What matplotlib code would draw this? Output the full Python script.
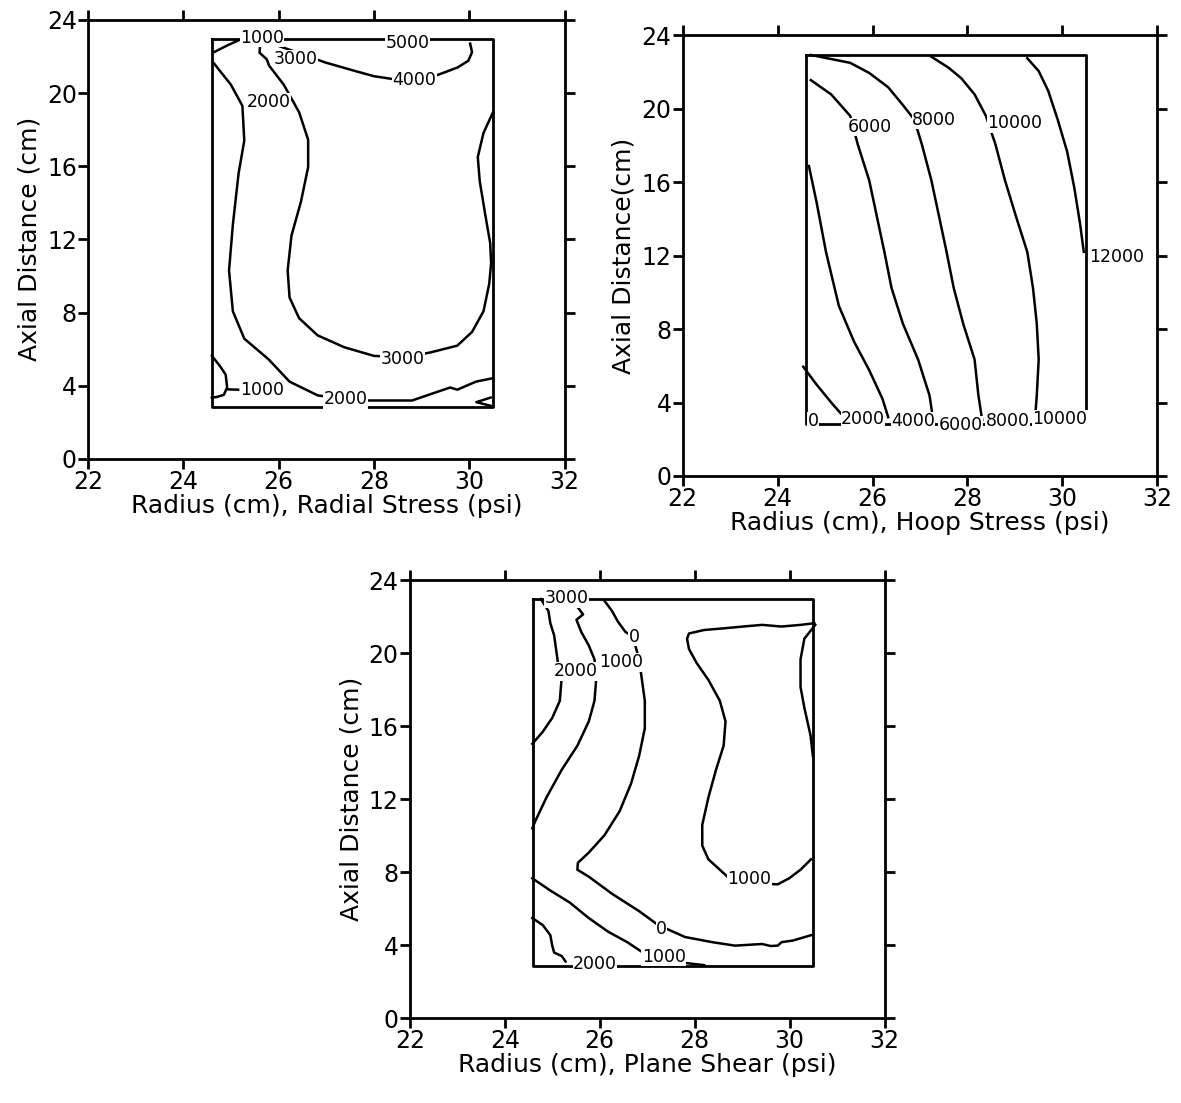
import matplotlib
matplotlib.use("Agg")
import matplotlib.pyplot as plt

# model domain outline (radius, axial distance)
domain_r = [24.6, 30.5]
domain_z = [2.85, 22.95]

x_ticks = [22, 24, 26, 28, 30, 32]
y_ticks = [0, 4, 8, 12, 16, 20, 24]

# ---- radial stress contours (r, z) ----
radial_1000a = [(24.62, 22.2), (24.92, 22.6), (25.2, 22.93)]
radial_1000b = [(24.6, 5.63), (24.77, 5.07), (24.89, 4.6), (24.92, 3.9),
                (24.85, 3.5), (24.7, 3.38), (24.6, 3.35)]
radial_1000b_tail = [(24.92, 3.8), (25.15, 3.78)]
radial_2000 = [(24.65, 21.6), (25.0, 20.45), (25.24, 19.3), (25.28, 17.4),
               (25.16, 15.6), (25.04, 12.8), (24.96, 10.3), (25.04, 8.07),
               (25.28, 6.57), (25.79, 5.44), (26.23, 4.22), (26.82, 3.47),
               (27.61, 3.19), (28.8, 3.19), (29.43, 3.75), (29.6, 3.9),
               (29.75, 3.78), (29.9, 3.95), (30.14, 4.22), (30.48, 4.4)]
radial_3000 = [(25.62, 22.95), (25.6, 22.2), (25.75, 21.85), (25.8, 21.5),
               (26.11, 20.45), (26.43, 18.95), (26.62, 17.45), (26.62, 15.95),
               (26.47, 14.07), (26.27, 12.2), (26.19, 10.3), (26.23, 8.82),
               (26.43, 7.69), (26.82, 6.75), (27.38, 6.1), (28.0, 5.63),
               (28.64, 5.53), (29.19, 5.82), (29.75, 6.19), (30.06, 6.94),
               (30.3, 8.07), (30.42, 9.57), (30.46, 10.7), (30.44, 11.8),
               (30.34, 13.3), (30.22, 15.2), (30.18, 16.5), (30.3, 17.82),
               (30.5, 18.95)]
radial_4000 = [(25.64, 22.9), (26.27, 22.33), (26.98, 21.67), (27.61, 21.2),
               (28.0, 20.92), (28.48, 20.73), (29.1, 20.8), (29.35, 21.0),
               (29.75, 21.39), (29.98, 21.76), (30.06, 22.23), (30.02, 22.7)]
radial_corner = [(30.45, 3.35), (30.15, 3.1), (30.45, 2.9)]
radial_lines = [radial_1000a, radial_1000b, radial_1000b_tail, radial_2000,
                radial_3000, radial_4000, radial_corner]
radial_labels = [("1000", 25.65, 23.0), ("3000", 26.35, 21.85), ("5000", 28.7, 22.75),
                 ("4000", 28.85, 20.7), ("2000", 25.8, 19.5), ("3000", 28.6, 5.45),
                 ("1000", 25.65, 3.78), ("2000", 27.4, 3.25)]

# ---- hoop stress contours ----
hoop_2000 = [(24.54, 5.95), (24.82, 4.98), (25.13, 4.0), (25.33, 3.41)]
hoop_4000 = [(24.66, 16.88), (24.82, 14.93), (25.02, 12.2), (25.29, 9.27),
             (25.61, 7.32), (25.93, 5.76), (26.21, 4.2), (26.33, 3.2)]
hoop_6000 = [(24.7, 21.56), (25.13, 20.78), (25.53, 19.61), (25.69, 18.05),
             (25.93, 16.1), (26.09, 14.15), (26.25, 12.2), (26.4, 10.24),
             (26.64, 8.29), (26.96, 6.34), (27.2, 4.39), (27.28, 3.02)]
hoop_8000 = [(24.7, 22.93), (25.53, 22.5), (25.93, 21.95), (26.33, 21.17),
             (26.64, 20.2), (26.88, 19.41), (27.04, 18.05), (27.24, 16.1),
             (27.4, 14.15), (27.56, 12.2), (27.71, 10.24), (27.91, 8.29),
             (28.15, 6.34), (28.23, 4.39), (28.31, 3.05)]
hoop_10000 = [(27.24, 22.83), (27.6, 22.24), (27.87, 21.66), (28.15, 20.78),
              (28.39, 19.6), (28.59, 18.05), (28.79, 16.1), (29.02, 14.15),
              (29.26, 12.2), (29.38, 10.24), (29.46, 8.29), (29.5, 6.34),
              (29.46, 4.39), (29.42, 3.0)]
hoop_12000 = [(29.26, 22.75), (29.5, 22.05), (29.7, 20.98), (29.9, 19.41),
              (30.1, 17.66), (30.25, 15.7), (30.37, 13.76), (30.45, 12.2)]
hoop_lines = [hoop_2000, hoop_4000, hoop_6000, hoop_8000, hoop_10000, hoop_12000]
hoop_labels = [("6000", 25.95, 19.0), ("8000", 27.3, 19.4), ("10000", 29.0, 19.2),
               ("12000", 31.15, 11.9), ("0", 24.75, 3.0), ("2000", 25.8, 3.1),
               ("4000", 26.85, 3.0), ("6000", 27.85, 2.75), ("8000", 28.85, 3.0),
               ("10000", 29.95, 3.1)]

# ---- plane shear contours ----
shear_2000a = [(24.76, 22.97), (24.92, 22.31), (24.96, 21.64), (25.04, 20.98),
               (25.08, 20.23), (25.12, 19.47), (25.2, 18.71), (25.16, 17.39),
               (25.0, 16.45), (24.8, 15.69), (24.58, 15.03)]
shear_1000a = [(25.69, 22.91), (25.54, 22.5), (25.65, 22.12), (25.51, 21.83),
               (25.61, 21.17), (25.77, 20.42), (25.89, 19.66), (25.93, 18.71),
               (25.89, 17.39), (25.77, 16.26), (25.53, 14.93), (25.2, 13.61),
               (24.88, 12.1), (24.64, 10.78), (24.58, 10.4)]
shear_0 = [(26.1, 22.87), (26.26, 22.31), (26.38, 21.74), (26.54, 21.17),
           (26.7, 20.9), (26.79, 20.04), (26.87, 18.9), (26.95, 17.39),
           (26.95, 15.88), (26.83, 14.37), (26.66, 12.85), (26.42, 11.34),
           (26.1, 10.02), (25.77, 9.07), (25.54, 8.51), (25.53, 8.13),
           (25.77, 7.75), (26.26, 6.81), (26.83, 5.86), (27.23, 5.1),
           (27.8, 4.44), (28.37, 4.16), (28.85, 3.97), (29.42, 4.06),
           (29.6, 3.95), (29.75, 3.97), (29.83, 4.16), (30.07, 4.25),
           (30.45, 4.54)]
shear_1000b = [(24.58, 7.66), (24.96, 6.99), (25.37, 6.33), (25.77, 5.48),
               (26.18, 4.73), (26.58, 4.16), (26.91, 3.59), (27.27, 3.4),
               (27.8, 3.02), (28.2, 2.9)]
shear_2000b = [(24.58, 5.48), (24.8, 5.1), (24.96, 4.54), (25.0, 3.97),
               (25.04, 3.59), (25.2, 3.4), (25.28, 3.1)]
shear_m1000 = [(30.52, 21.64), (30.23, 21.55), (29.83, 21.46), (29.42, 21.55),
               (29.02, 21.46), (28.61, 21.36), (28.2, 21.27), (27.88, 21.08),
               (27.84, 20.79), (27.88, 20.23), (28.04, 19.47), (28.29, 18.53),
               (28.53, 17.39), (28.65, 16.26), (28.61, 14.93), (28.45, 13.61),
               (28.29, 12.1), (28.16, 10.59), (28.16, 9.45), (28.29, 8.7),
               (28.53, 8.13), (28.69, 7.75), (29.06, 7.5), (29.42, 7.37),
               (29.75, 7.33), (29.99, 7.66), (30.23, 8.13), (30.45, 8.7)]
shear_m2000 = [(30.54, 21.55), (30.31, 20.79), (30.23, 19.66), (30.23, 18.15),
               (30.31, 17.01), (30.44, 15.5), (30.49, 14.37)]
shear_lines = [shear_2000a, shear_1000a, shear_0, shear_1000b, shear_2000b,
               shear_m1000, shear_m2000]
shear_labels = [("3000", 25.3, 23.0), ("2000", 25.5, 19.0), ("1000", 26.45, 19.5),
                ("0", 26.72, 20.9), ("1000", 29.15, 7.6), ("0", 27.3, 4.9),
                ("1000", 27.35, 3.35), ("2000", 25.9, 2.95)]

panels = [
    ([0.0745, 0.584, 0.4035, 0.398], radial_lines, radial_labels,
     "Radius (cm), Radial Stress (psi)", "Axial Distance (cm)"),
    ([0.578, 0.5685, 0.402, 0.3995], hoop_lines, hoop_labels,
     "Radius (cm), Hoop Stress (psi)", "Axial Distance(cm)"),
    ([0.347, 0.077, 0.402, 0.397], shear_lines, shear_labels,
     "Radius (cm), Plane Shear (psi)", "Axial Distance (cm)"),
]

fig = plt.figure(figsize=(11.81, 11.03), dpi=100)

for rect, lines, labels, xlab, ylab in panels:
    ax = fig.add_axes(rect)
    r0, r1 = domain_r
    z0, z1 = domain_z
    ax.plot([r0, r1, r1, r0, r0], [z1, z1, z0, z0, z1], color="black", lw=2)
    for pts in lines:
        xs = [p[0] for p in pts]
        ys = [p[1] for p in pts]
        ax.plot(xs, ys, color="black", lw=1.8)
    for txt, x, y in labels:
        ax.text(x, y, txt, ha="center", va="center", fontsize=12.5, clip_on=False,
                bbox=dict(facecolor="white", edgecolor="none", pad=0.2))
    ax.set_xlim(22, 32)
    ax.set_ylim(0, 24)
    ax.set_xticks(x_ticks)
    ax.set_yticks(y_ticks)
    ax.tick_params(direction="out", length=7, width=2, labelsize=17,
                   top=True, right=True, pad=1)
    for s in ax.spines.values():
        s.set_linewidth(2)
    ax.set_xlabel(xlab, fontsize=18, labelpad=0)
    ax.set_ylabel(ylab, fontsize=18, labelpad=4)

fig.savefig("out.png", dpi=100)
